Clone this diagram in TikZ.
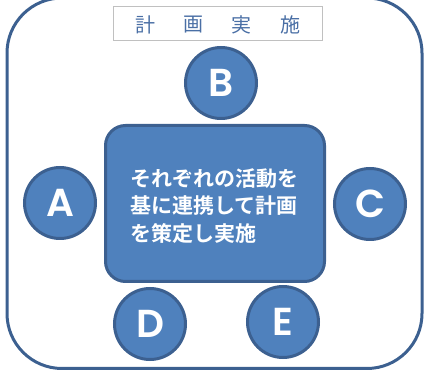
\documentclass[tikz,border=0pt]{standalone}
\usepackage{fontspec}
\newfontfamily\letterfont{Poppins SemiBold}
\newfontfamily\cjk{Noto Sans CJK JP}
\newfontfamily\cjkbold{Noto Sans CJK JP Bold}
\definecolor{edgeblue}{HTML}{3C6090}
\definecolor{fillblue}{HTML}{4F81BD}
\definecolor{titleblue}{HTML}{4A6FA5}
\definecolor{boxgray}{HTML}{C0C0C0}
\tikzset{
  member/.style={circle, draw=edgeblue, fill=fillblue, line width=3pt, minimum size=71pt, inner sep=0pt,
    text=white, font=\letterfont\fontsize{39}{39}\selectfont},
  titlechar/.style={text=titleblue, font=\cjk\fontsize{20}{20}\selectfont},
}
\begin{document}
\begin{tikzpicture}[x=1pt,y=-1pt]
\useasboundingbox (0,0) rectangle (424,374);
\begin{scope}
\clip (0,0) rectangle (424,374);
\draw[edgeblue, line width=3pt, rounded corners=55pt] (7,-2) rectangle (422,368.5);
\end{scope}
\node[draw=boxgray, line width=1.5pt, minimum width=209pt, minimum height=34pt, inner sep=0pt] (title) at (218,23.5) {};
\node[titlechar] (t1) at (145,25) {計};
\node[titlechar] (t2) at (193,25) {画};
\node[titlechar] (t3) at (241,25) {実};
\node[titlechar] (t4) at (290,25) {施};
\node[draw=edgeblue, fill=fillblue, line width=3pt, rounded corners=20pt, minimum width=219pt, minimum height=156pt,
  inner sep=0pt] (center) at (215,203.5) {};
\node[text=white, anchor=west, align=left, font=\cjkbold\fontsize{21}{27.5}\selectfont] (ctext) at (127,206)
  {それぞれの活動を\\基に連携して計画\\を策定し実施};
\node[member] (B) at (221,83) {B};
\node[member] (A) at (60,203) {A};
\node[member] (C) at (370,204) {C};
\node[member] (D) at (150,324) {D};
\node[member] (E) at (283,322) {E};
\end{tikzpicture}
\end{document}
